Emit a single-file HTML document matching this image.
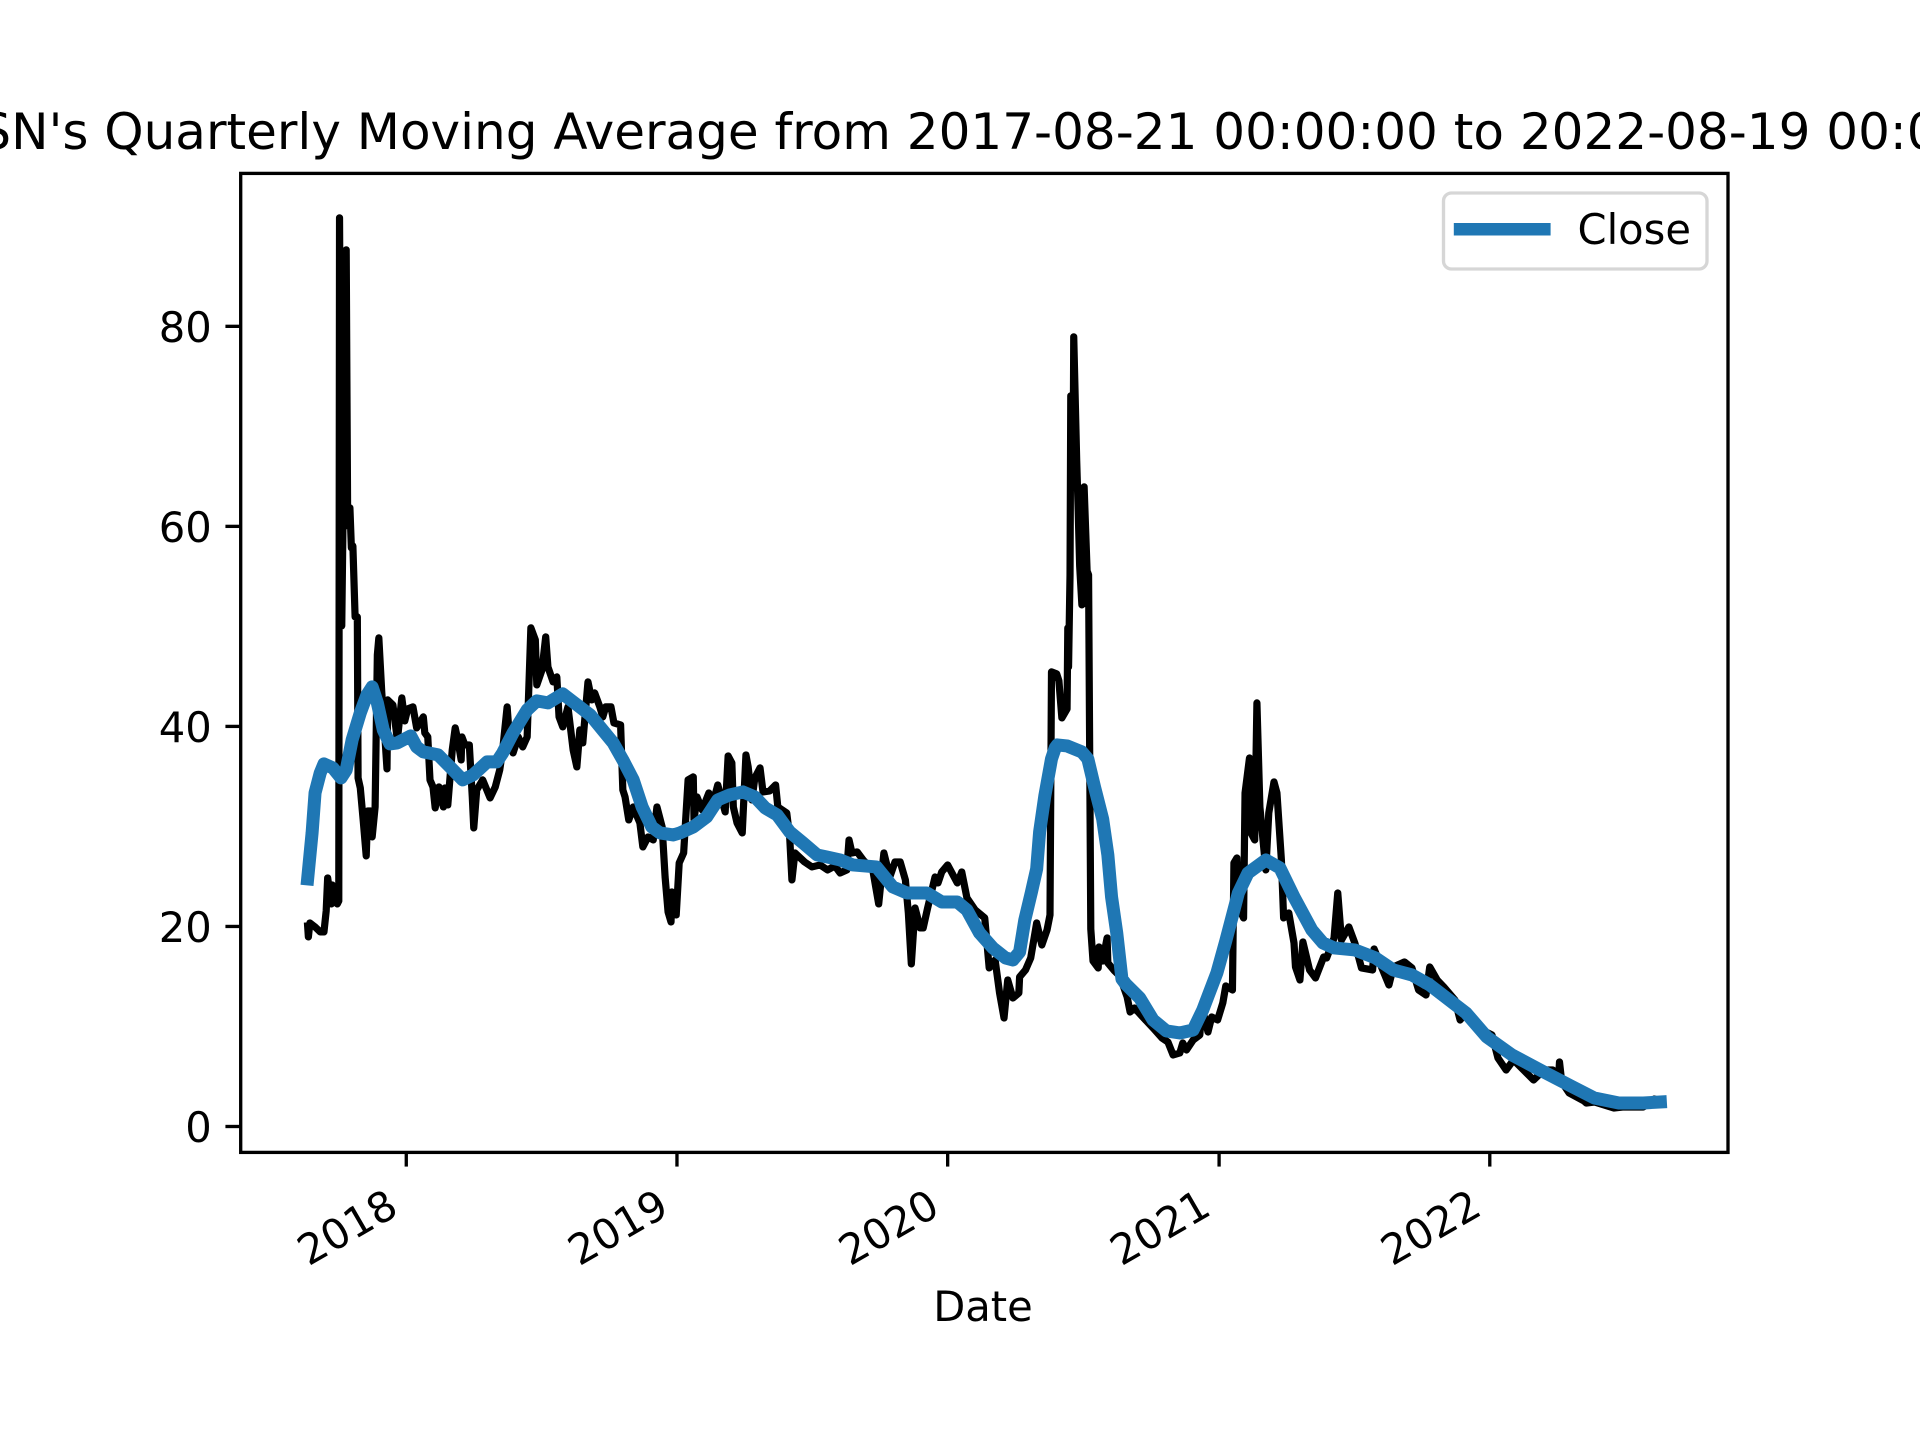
<!DOCTYPE html>
<html lang="en">
<head>
<meta charset="utf-8">
<title>Quarterly Moving Average</title>
<style>
html,body{margin:0;padding:0;background:#fff;width:1920px;height:1440px;overflow:hidden}
svg{display:block}
text{font-family:"DejaVu Sans","Liberation Sans",sans-serif;fill:#000}
</style>
</head>
<body>
<svg id="chart" xmlns="http://www.w3.org/2000/svg" width="1920" height="1440" viewBox="0 0 1920 1440">
<defs><clipPath id="plot-clip"><rect x="240" y="172.8" width="1488" height="979.2"/></clipPath></defs>
<text x="984" y="149" font-size="50" text-anchor="middle">STSN's Quarterly Moving Average from 2017-08-21 00:00:00 to 2022-08-19 00:00:00</text>
<g id="series" clip-path="url(#plot-clip)"></g>
<g id="axes"></g>
<rect x="240.7" y="173.4" width="1487.3" height="979" fill="none" stroke="#000" stroke-width="3.33"/>
<g>
<rect x="1443.5" y="193" width="263.5" height="76" rx="8" ry="8" fill="#fff" stroke="#d6d6d6" stroke-width="3.33"/>
<line x1="1453.8" y1="229.3" x2="1550.6" y2="229.3" stroke="#1f77b4" stroke-width="12.5"/>
<text x="1577.5" y="244" font-size="41.67">Close</text>
</g>
<text x="983" y="1321" font-size="41.67" text-anchor="middle">Date</text>
</svg>
<script>
// Days since 2017-08-21 and closing prices
const closeDays = [
0,1,3,10,17,22,25,27,32,33,36,40,42,43,46,52,54,57,59,61,
64,67,68,71,75,79,81,85,87,91,94,96,100,104,107,108,115,121,127,131,
135,142,147,156,158,162,165,169,172,177,183,185,189,195,199,203,207,208,212,218,
222,224,228,236,246,253,259,263,269,271,277,284,290,296,301,307,309,316,321,324,
331,336,339,344,351,358,363,367,371,378,383,387,394,398,402,409,413,422,425,428,
433,439,448,452,459,466,471,478,482,486,490,491,497,501,507,513,520,521,525,532,
541,547,553,563,567,572,574,579,586,591,594,599,603,610,614,623,631,634,646,650,
653,657,670,680,691,701,711,718,727,730,734,741,749,762,770,777,785,792,799,806,
810,814,819,826,830,836,846,850,855,863,876,882,889,900,913,919,927,933,939,944,
951,959,960,968,975,983,990,997,1001,1003,1010,1013,1017,1024,1025,1026,1028,1029,1032,1033,
1037,1039,1041,1044,1047,1051,1053,1056,1059,1066,1067,1072,1078,1079,1088,1095,1105,1109,1115,1126,
1140,1152,1160,1167,1176,1180,1185,1194,1203,1206,1214,1219,1227,1234,1238,1247,1249,1253,1255,1262,
1264,1270,1272,1277,1280,1284,1292,1296,1303,1307,1313,1316,1323,1330,1332,1338,1342,1351,1359,1370,
1374,1384,1389,1394,1404,1412,1421,1436,1438,1448,1458,1464,1479,1489,1498,1508,1513,1523,1532,1547,
1554,1562,1575,1597,1605,1616,1626,1653,1667,1679,1687,1688,1691,1701,1721,1724,1735,1761,1773,1801,
1816,1824
];
const closeValues = [
20,18.9,20.3,19.9,19.4,19.4,21.5,24.8,22.2,24.1,22.9,22.2,22.5,90.8,50,87.6,60,61.8,57.8,58,
50.9,50.9,34.8,33.8,30.5,27,31.5,31.5,28.9,31.9,47.1,48.8,43.3,39.1,35.7,42.6,42.1,38.6,42.8,40.5,
41.7,41.9,39.8,40.9,39.3,38.9,34.6,33.9,31.8,33.9,31.9,33.8,32.1,37.6,39.8,38.4,36.6,38.9,38.1,38.1,
32.9,29.8,33.6,34.6,32.8,33.9,35.6,37.6,41.9,39.9,37.3,38.9,37.9,38.9,49.8,48.6,44.1,45.6,48.9,45.9,
44.4,44.9,40.9,39.9,41.9,37.6,35.9,39.6,38.3,44.4,42.6,43.3,41.9,40.9,41.9,41.9,40.3,40.1,33.6,32.9,
30.6,31.9,30.3,27.9,28.9,28.6,31.9,29.9,24.9,21.4,20.4,23.4,21.1,26.3,27.3,34.6,34.9,30.6,32.9,31.6,
33.3,32.4,34.1,31.4,37,36.3,31.9,30.3,29.3,37.1,35.9,32.6,34.8,35.8,33.4,33.5,34.1,31.9,31.3,28.9,
24.6,27.3,26.4,25.9,26.1,25.6,26,25.3,25.6,28.6,27.3,27.4,26.6,25.6,22.2,27.3,24.9,26.4,26.4,24.6,
21.3,16.2,21.8,19.8,19.8,21.8,24.9,24.3,25.4,26.1,24.3,25.4,22.8,21.6,20.8,15.8,16.6,13.3,10.8,14.6,
12.8,13.3,14.9,15.6,16.8,20.3,18.1,19.6,21.1,45.4,45.2,44.5,40.8,41.7,49.8,45.9,55.1,73,64.2,78.9,
66.5,61.5,56,52.1,63.9,55.5,55.1,19.7,16.5,15.8,17.9,16.5,18.8,16.3,15.5,15,12.9,11.4,11.8,10.9,
9.8,8.8,8.4,7.1,7.3,8.3,7.6,8.6,9.1,11.9,9.4,10.9,10.6,12.3,14,13.6,26.3,26.8,21.9,20.8,
33.3,36.8,29.3,28.6,42.3,31.9,25.6,31.3,34.4,33.3,26.6,20.8,21.3,18.3,15.9,14.6,18.4,15.6,14.8,16.9,
16.8,18.8,23.3,18.6,19.9,18.3,15.8,15.6,17.7,15.9,14.1,15.9,16.4,15.8,13.6,13.1,15.9,14.6,13.9,12.6,
10.6,11.3,9.9,9.1,6.8,5.6,6.6,4.6,5.6,5.6,5.1,6.4,4.4,3.3,2.5,2.3,2.4,1.8,1.9,1.9,
2.7,2.5
];
const averageDays = [
0,6,10,17,22,34,45,52,60,71,80,87,94,102,111,121,139,147,156,176,
196,209,223,242,255,263,277,296,309,324,344,358,381,412,425,439,451,464,475,493,
502,520,538,553,569,587,603,617,633,650,668,687,700,718,735,767,789,808,835,855,
876,889,906,924,941,951,960,967,976,983,987,994,1003,1008,1011,1024,1044,1052,1061,1072,
1079,1084,1091,1098,1103,1122,1140,1158,1176,1194,1207,1226,1238,1255,1268,1292,1311,1330,1354,1369,
1384,1412,1440,1464,1489,1513,1562,1590,1624,1667,1706,1735,1768,1801,1824
];
const averageValues = [
24.7,29.3,33.3,35.3,36.2,35.8,34.8,35.6,38.6,41.3,43.1,43.9,42.3,39.6,38.2,38.3,39,37.9,37.4,37.1,
35.6,34.6,35.1,36.4,36.4,37.3,39.3,41.6,42.5,42.3,43.2,42.4,41.1,38.3,36.6,34.6,31.9,29.9,29.3,29.1,
29.3,29.9,30.9,32.6,33.1,33.4,32.9,31.8,31.1,29.4,28.3,27.1,26.9,26.6,26.1,25.9,23.9,23.3,23.3,22.4,
22.4,21.6,19.3,17.8,16.8,16.6,17.4,20.6,23.4,25.7,29.4,33,36.7,37.8,38.1,38,37.4,36.7,33.9,30.7,
27.1,22.9,19.3,14.7,14.2,12.8,10.6,9.5,9.3,9.6,11.6,15.3,18.5,23.3,25.3,26.6,25.8,22.9,19.6,18.3,
17.8,17.6,16.8,15.6,15.1,14.1,11.3,8.9,7.1,5.4,3.9,2.8,2.3,2.3,2.4
];
const yTickValues = [0, 20, 40, 60, 80];
const xTickYears = [2018, 2019, 2020, 2021, 2022];

const SVG_NS = 'http://www.w3.org/2000/svg';
const plotLeft = 240, plotRight = 1728, plotTop = 172.8, plotBottom = 1152;
const dayDomainMin = -91.2, dayDomainMax = 1915.2;
const valueDomainMin = -2.6, valueDomainMax = 95.3;
const startMs = Date.UTC(2017, 7, 21);

function xScale(day) {
  return plotLeft + (day - dayDomainMin) / (dayDomainMax - dayDomainMin) * (plotRight - plotLeft);
}
function yScale(value) {
  return plotBottom - (value - valueDomainMin) / (valueDomainMax - valueDomainMin) * (plotBottom - plotTop);
}
function linePoints(days, values) {
  return days.map(function (d, i) {
    return xScale(d).toFixed(2) + ',' + yScale(values[i]).toFixed(2);
  }).join(' ');
}

const seriesGroup = document.getElementById('series');
const axesGroup = document.getElementById('axes');

const closeLine = document.createElementNS(SVG_NS, 'polyline');


closeLine.setAttribute('points', linePoints(closeDays, closeValues));
closeLine.setAttribute('fill', 'none');
closeLine.setAttribute('stroke', '#000');
closeLine.setAttribute('stroke-width', '7.2');
closeLine.setAttribute('stroke-linejoin', 'round');
closeLine.setAttribute('stroke-linecap', 'square');
seriesGroup.appendChild(closeLine);

const averageLine = document.createElementNS(SVG_NS, 'polyline');


averageLine.setAttribute('points', linePoints(averageDays, averageValues));
averageLine.setAttribute('fill', 'none');
averageLine.setAttribute('stroke', '#1f77b4');
averageLine.setAttribute('stroke-width', '13');
averageLine.setAttribute('stroke-linejoin', 'round');
averageLine.setAttribute('stroke-linecap', 'square');
seriesGroup.appendChild(averageLine);

yTickValues.forEach(function (v) {
  const y = yScale(v);
  const tick = document.createElementNS(SVG_NS, 'line');
  
  
  tick.setAttribute('x1', plotLeft);
  tick.setAttribute('x2', plotLeft - 14.58);
  tick.setAttribute('y1', y + 0.5);
  tick.setAttribute('y2', y + 0.5);
  tick.setAttribute('stroke', '#000');
  tick.setAttribute('stroke-width', '3.33');
  axesGroup.appendChild(tick);
  const label = document.createElementNS(SVG_NS, 'text');
  
  
  label.setAttribute('x', plotLeft - 28.2);
  label.setAttribute('y', y + 16.2);
  label.setAttribute('font-size', '41.67');
  label.setAttribute('text-anchor', 'end');
  label.textContent = String(v);
  axesGroup.appendChild(label);
});

xTickYears.forEach(function (year) {
  const day = (Date.UTC(year, 0, 1) - startMs) / 86400000;
  const x = xScale(day);
  const tick = document.createElementNS(SVG_NS, 'line');
  
  
  tick.setAttribute('x1', x);
  tick.setAttribute('x2', x);
  tick.setAttribute('y1', plotBottom);
  tick.setAttribute('y2', plotBottom + 14.58);
  tick.setAttribute('stroke', '#000');
  tick.setAttribute('stroke-width', '3.33');
  axesGroup.appendChild(tick);
  const label = document.createElementNS(SVG_NS, 'text');
  
  
  label.setAttribute('font-size', '41.67');
  label.setAttribute('text-anchor', 'end');
  label.setAttribute('transform', 'translate(' + (x - 6) + ' 1213.5) rotate(-30)');
  label.textContent = String(year);
  axesGroup.appendChild(label);
});
</script>
</body>
</html>
